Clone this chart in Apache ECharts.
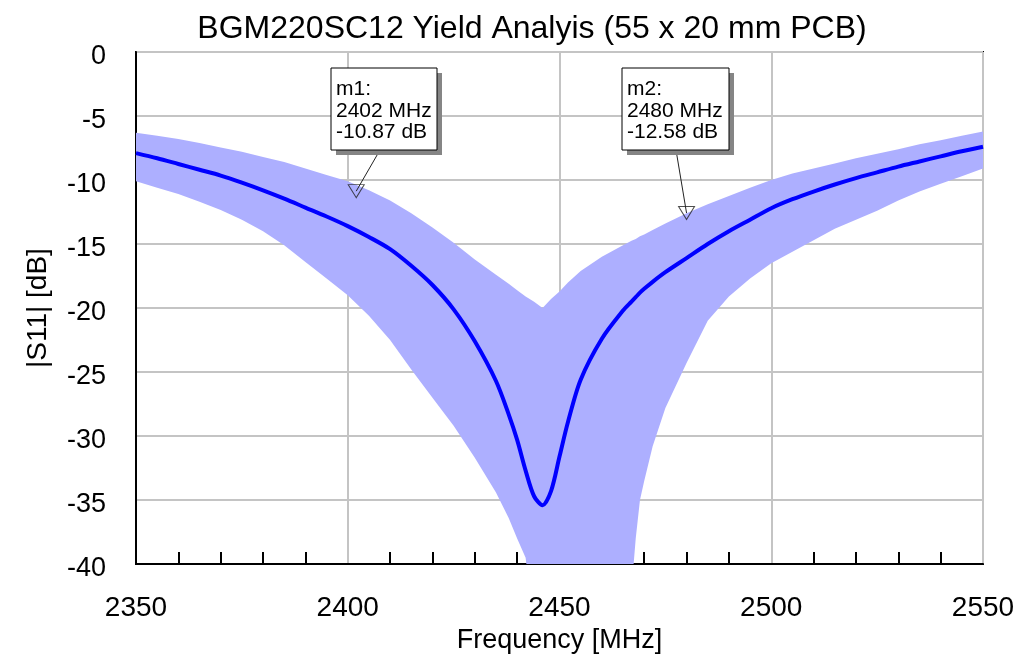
<!DOCTYPE html>
<html>
<head>
<meta charset="utf-8">
<script src="https://cdn.jsdelivr.net/npm/echarts@6/dist/echarts.min.js"></script>
<style>
html,body{margin:0;padding:0;background:#fff;}
#chart{width:1019px;height:659px;}
</style>
</head>
<body>
<div id="chart"></div>
<script>
// ---- data ----
const freq = [2350,2355,2360,2365,2370,2375,2380,2385,2390,2395,2400,2405,2410,2415,2420,2425,2430,2435,
  2438,2440,2442,2444,2446,2448,2450,2452,2455,2460,2465,2467,2468,2469,2470,2472,2475,
  2480,2485,2490,2495,2500,2505,2510,2515,2520,2525,2530,2535,2540,2545,2550];
// upper envelope of the yield band (dB)
const upperDb = [-6.3,-6.55,-6.8,-7.1,-7.45,-7.8,-8.2,-8.6,-9.1,-9.6,-10.1,-10.8,-11.6,-12.6,-13.7,-14.9,-16.2,-17.4,
  -18.1,-18.6,-19.1,-19.5,-20.0,-19.3,-18.7,-18.0,-17.1,-16.0,-15.1,-14.75,-14.6,-14.4,-14.25,-13.9,-13.4,
  -12.6,-11.9,-11.25,-10.6,-10.0,-9.5,-9.1,-8.7,-8.3,-7.95,-7.6,-7.2,-6.9,-6.55,-6.2];
// lower envelope of the yield band (dB), below -40 where it leaves the plot
const lowerDb = [-10.1,-10.6,-11.1,-11.7,-12.35,-13.1,-14.0,-15.1,-16.4,-17.7,-19.0,-20.6,-22.5,-24.8,-27.0,-29.2,-31.7,-34.4,
  -36.4,-38.0,-39.5,-45,-45,-45,-45,-45,-45,-45,-45,-42,-38,-35,-33.5,-30.8,-27.8,
  -24.3,-21.0,-19.1,-17.7,-16.5,-15.6,-14.7,-13.8,-13.1,-12.4,-11.6,-10.9,-10.3,-9.7,-9.1];
// nominal |S11| (dB)
const nominalDb = [-7.9,-8.3,-8.75,-9.2,-9.65,-10.2,-10.8,-11.45,-12.15,-12.85,-13.6,-14.45,-15.4,-16.7,-18.2,-20.1,-22.6,-25.7,
  -28.3,-30.3,-32.7,-34.7,-35.4,-34.3,-31.6,-28.9,-25.6,-22.4,-20.2,-19.5,-19.15,-18.8,-18.5,-17.95,-17.2,
  -16.1,-15.0,-14.0,-13.1,-12.2,-11.5,-10.9,-10.35,-9.85,-9.4,-8.95,-8.55,-8.15,-7.75,-7.4];
const markerNames = ['m1','m2'];
const markerFreq = [2402, 2480];
const markerDb = [-10.87, -12.58];
const xTicks = [2350,2400,2450,2500,2550];
const yTicks = [0,-5,-10,-15,-20,-25,-30,-35,-40];

const titleText = 'BGM220SC12 Yield Analyis (55 x 20 mm PCB)';
const FONT = '"Liberation Sans", Arial, sans-serif';

// annotation box layout (pixels)
const boxes = [
  {x: 331, y: 68, w: 106, h: 82, lx: 380},
  {x: 622, y: 68, w: 107, h: 82, lx: 676}
];

const chart = echarts.init(document.getElementById('chart'), null, {renderer:'canvas'});

const bandData = freq.map((f,i)=>[f, upperDb[i], lowerDb[i]]);
const nominalData = freq.map((f,i)=>[f, nominalDb[i]]);
const markerData = markerFreq.map((f,i)=>[f, markerDb[i]]);

function renderBand(params, api){
  if (params.dataIndex !== 0) return null;
  const top = freq.map((f,i)=>api.coord([f, upperDb[i]]));
  const bot = freq.map((f,i)=>api.coord([f, lowerDb[i]])).reverse();
  const cs = params.coordSys;
  return {
    type:'polygon',
    shape:{points: top.concat(bot)},
    style:{fill:'#adafff'},
    clipPath:{type:'rect', shape:{x:cs.x, y:cs.y, width:cs.width, height:cs.height}},
    silent:true
  };
}

const graphics = [];
boxes.forEach((b,i)=>{
  graphics.push({type:'rect', shape:{x:b.x+5,y:b.y+5,width:b.w,height:b.h}, style:{fill:'#858585'}, z:100});
  graphics.push({type:'rect', shape:{x:b.x,y:b.y,width:b.w,height:b.h}, style:{fill:'#fff',stroke:'#000',lineWidth:1}, z:101});
  graphics.push({type:'text', x:b.x+5, y:b.y+11, z:102,
    style:{text: markerNames[i]+':\n'+markerFreq[i]+' MHz\n'+markerDb[i].toFixed(2)+' dB',
      font:'21px '+FONT, fill:'#000', lineHeight:21.2, textVerticalAlign:'top'}});
});

const option = {
  animation:false,
  backgroundColor:'#fff',
  title:{text:titleText, left:527, top:8, textAlign:'center',
    textStyle:{fontFamily:FONT, fontSize:32, fontWeight:'normal', color:'#000'}},
  grid:{left:136, right:36, top:52, bottom:94, show:true, borderColor:'#000', borderWidth:2, containLabel:false},
  xAxis:{type:'value', min:2350, max:2550, interval:50,
    name:'Frequency [MHz]', nameLocation:'middle', nameGap:61,
    nameTextStyle:{fontFamily:FONT, fontSize:27, color:'#000'},
    axisLine:{show:true, onZero:false, lineStyle:{color:'#000', width:2}},
    axisTick:{show:false, inside:true},
    minorTick:{show:true, splitNumber:5, length:12, lineStyle:{color:'#000', width:2}},
    axisLabel:{fontFamily:FONT, fontSize:28, color:'#000', margin:30,
      formatter:(v)=> xTicks.includes(v) ? String(v) : ''},
    splitLine:{show:true, lineStyle:{color:'#c4c4c4', width:2}}
  },
  yAxis:{type:'value', min:-40, max:0, interval:5,
    name:'|S11| [dB]', nameLocation:'middle', nameGap:84,
    nameTextStyle:{fontFamily:FONT, fontSize:28, color:'#000'},
    axisLine:{show:true, onZero:false, lineStyle:{color:'#000', width:2}},
    axisTick:{show:false},
    axisLabel:{color:'#000', margin:30,
      formatter:(v)=> yTicks.includes(v) ? '{a|' + v + '}' : '',
      rich:{a:{fontFamily:FONT, fontSize:27, color:'#000', padding:[9,0,0,0]}}},
    splitLine:{show:true, lineStyle:{color:'#c4c4c4', width:2}}
  },
  series:[
    {type:'custom', data:bandData, renderItem:renderBand, clip:true, silent:true, z:2,
      encode:{x:0, y:[1,2]}},
    {type:'line', data:nominalData, symbol:'none', smooth:0.3, silent:true,
      lineStyle:{color:'#0000ff', width:4}, clip:true, z:3},
    {type:'scatter', data:markerData, symbol:'triangle', symbolRotate:180, symbolSize:[16,13],
      itemStyle:{color:'rgba(0,0,0,0)', borderColor:'#222', borderWidth:1}, z:5, silent:true,
      markLine:{silent:true, symbol:'none', animation:false,
        lineStyle:{color:'#222', width:1, type:'solid'}, label:{show:false},
        data: markerData.map((p,i)=>[{x:boxes[i].lx, y:boxes[i].y+boxes[i].h}, {coord:p}])}
    }
  ],
  graphic: graphics
};
chart.setOption(option);
</script>
</body>
</html>
